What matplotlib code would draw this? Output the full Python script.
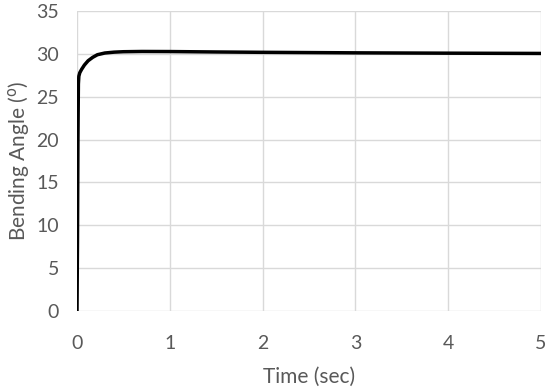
import matplotlib.pyplot as plt

# bending angle response
time_s = [0.0, 0.005, 0.01, 0.015, 0.02, 0.03, 0.05, 0.08, 0.12, 0.17, 0.22, 0.3, 0.4, 0.5,
          0.7, 1.0, 1.5, 2.0, 3.0, 4.0, 5.0]
angle_deg = [0.0, 8.0, 20.0, 26.5, 27.4, 27.8, 28.2, 28.7, 29.2, 29.6, 29.9, 30.1, 30.2, 30.25,
             30.28, 30.27, 30.22, 30.18, 30.12, 30.08, 30.05]

plt.rcParams['font.family'] = ['Lato', 'DejaVu Sans']

fig = plt.figure(figsize=(5.5, 3.89), dpi=100)
ax = fig.add_axes([0.14, 0.2005, 0.8436, 0.7712])

ax.plot(time_s, angle_deg, color='black', lw=2.5, solid_capstyle='round', zorder=3)

ax.set_xlim(0, 5)
ax.set_ylim(0, 35)
ax.set_xticks(range(0, 6))
ax.set_yticks(range(0, 36, 5))
ax.grid(True, color='#d9d9d9', lw=1)
ax.set_axisbelow(True)
for s in ax.spines.values():
    s.set_visible(False)
ax.tick_params(axis='x', length=0, labelsize=14, colors='#595959', pad=17)
ax.tick_params(axis='y', length=0, labelsize=14, colors='#595959', pad=13)

ax.set_xlabel('Time (sec)', fontsize=15, color='#595959', labelpad=11)
ax.set_ylabel('Bending Angle ($^{\\mathrm{o}}$)', fontsize=15, color='#595959', labelpad=3)

fig.savefig('out.png', dpi=100)
